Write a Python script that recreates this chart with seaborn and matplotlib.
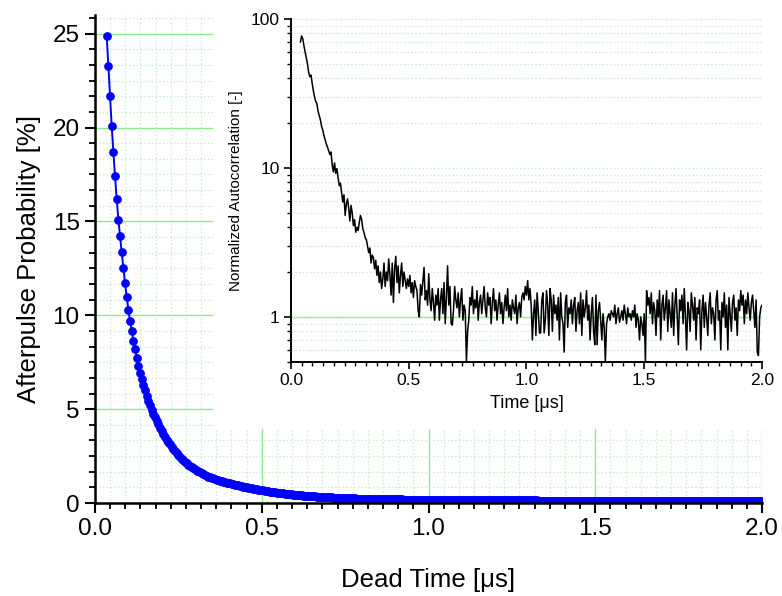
import numpy as np
import pandas as pd
import seaborn as sns
from matplotlib import pyplot as plt
from matplotlib.patches import Rectangle
from matplotlib.ticker import AutoMinorLocator, LogLocator, NullFormatter, FixedLocator

# afterpulse probability [%] vs dead time, one point every 5 ns starting at 35 ns
dead_time_start = 0.035
dead_time_step = 0.005
afterpulse = [
    24.9, 23.3, 21.7, 20.1, 18.7, 17.4, 16.2, 15.1, 14.2, 13.35,
    12.5, 11.7, 11.0, 10.3, 9.7, 9.15, 8.65, 8.2, 7.75, 7.3,
    6.95, 6.6, 6.3, 6.0, 5.72, 5.46, 5.2,
    4.97, 4.76, 4.56, 4.37, 4.19, 4.01, 3.84, 3.67, 3.52, 3.38,
    3.25, 3.12, 3.0, 2.88, 2.77, 2.66, 2.55, 2.46, 2.37, 2.28,
    2.20, 2.12, 2.05, 1.98, 1.91, 1.85, 1.79, 1.73, 1.68, 1.63,
    1.58, 1.53, 1.49, 1.45, 1.41, 1.37, 1.34, 1.31, 1.28, 1.25,
    1.22, 1.19, 1.16, 1.13, 1.11, 1.08, 1.06, 1.04, 1.02, 1.0,
    0.98, 0.96, 0.94, 0.92, 0.90, 0.88, 0.86, 0.84, 0.82, 0.80,
    0.78, 0.76, 0.74, 0.73, 0.71, 0.70, 0.68,
    0.67, 0.65, 0.64, 0.62, 0.61, 0.59, 0.58, 0.57, 0.55, 0.54,
    0.53, 0.52, 0.51, 0.50, 0.49, 0.48, 0.47, 0.46, 0.45, 0.44,
    0.43, 0.42, 0.41, 0.41, 0.40, 0.39, 0.38, 0.38, 0.37, 0.36,
    0.36, 0.35, 0.34, 0.34, 0.33, 0.33, 0.32, 0.32, 0.31, 0.31,
    0.30, 0.30, 0.29, 0.29, 0.29, 0.28, 0.28, 0.27, 0.27, 0.27,
    0.26, 0.26, 0.26, 0.25, 0.25, 0.25, 0.24, 0.24, 0.24, 0.24,
    0.23, 0.23, 0.23, 0.23, 0.22, 0.22, 0.22, 0.22, 0.21, 0.21,
    0.21, 0.21, 0.21, 0.20, 0.20, 0.20, 0.20, 0.20, 0.19, 0.19,
    0.19, 0.19, 0.19, 0.19, 0.18, 0.18, 0.18, 0.18, 0.18, 0.18,
    0.17, 0.17, 0.17, 0.17, 0.17, 0.17, 0.17, 0.16, 0.16, 0.16,
    0.16, 0.16, 0.16, 0.16, 0.16, 0.16, 0.16, 0.16, 0.16, 0.16,
    0.15, 0.15, 0.15, 0.15, 0.15, 0.15, 0.15, 0.15, 0.15, 0.15,
    0.15, 0.15, 0.15, 0.15, 0.15, 0.15, 0.15, 0.15, 0.15, 0.15,
    0.15, 0.15, 0.15, 0.15, 0.15, 0.14, 0.14, 0.14, 0.14, 0.14,
    0.14, 0.14, 0.14, 0.14, 0.14, 0.14, 0.14, 0.14, 0.14, 0.14,
    0.14, 0.14, 0.14, 0.14, 0.14, 0.14, 0.14, 0.14, 0.14, 0.14,
    0.14, 0.14, 0.14, 0.14, 0.14, 0.13, 0.13, 0.13, 0.13, 0.13,
    0.13, 0.13, 0.13, 0.13, 0.13, 0.13, 0.13, 0.13, 0.13, 0.13,
    0.13, 0.13, 0.13, 0.13, 0.13, 0.13, 0.13, 0.13, 0.13, 0.13,
    0.13, 0.13, 0.13, 0.13, 0.13, 0.13, 0.13, 0.13, 0.13, 0.13,
    0.13, 0.13, 0.13, 0.13, 0.13, 0.12, 0.12, 0.12, 0.12, 0.12,
    0.12, 0.12, 0.12, 0.12, 0.12, 0.12, 0.12, 0.12, 0.12, 0.12,
    0.12, 0.12, 0.12, 0.12, 0.12, 0.12, 0.12, 0.12, 0.12, 0.12,
    0.12, 0.12, 0.12, 0.12, 0.12, 0.12, 0.12, 0.12, 0.12, 0.12,
    0.12, 0.12, 0.12, 0.12, 0.12, 0.11, 0.11, 0.11, 0.11, 0.11,
    0.11, 0.11, 0.11, 0.11, 0.11, 0.11, 0.11, 0.11, 0.11, 0.11,
    0.11, 0.11, 0.11, 0.11, 0.11, 0.11, 0.11, 0.11, 0.11, 0.11,
    0.11, 0.11, 0.11, 0.11, 0.11, 0.11, 0.11, 0.11, 0.11, 0.11,
    0.11, 0.11, 0.11, 0.11, 0.11, 0.10, 0.10, 0.10, 0.10, 0.10,
    0.10, 0.10, 0.10, 0.10, 0.10, 0.10, 0.10, 0.10, 0.10, 0.10,
]

# normalized autocorrelation (inset), one point every 5 ns starting at 40 ns
time_start = 0.040
time_step = 0.005
autocorr = [
    70, 77, 74, 66, 60, 55, 50, 44, 41, 42,
    37, 33, 30, 28, 27, 24, 22.5, 21, 19, 18,
    16.5, 15.5, 14.5, 13.8, 13.0, 12.3, 12.8, 10.5, 9.4, 10.8,
    9.2, 9.9, 8.6,
    7.6, 7.9, 6.8, 5.9, 6.6, 4.8, 5.7, 6.2, 5.4, 4.4,
    5.6, 5.0, 4.1, 4.5, 3.7, 4.0, 3.8, 4.3, 4.8, 4.5,
    3.9, 3.7, 3.4, 3.3, 3.0, 2.7, 2.9, 2.3, 2.6, 2.5,
    2.1, 2.4, 1.9, 2.2, 1.7, 2.0, 1.55, 1.8, 2.3, 1.6,
    2.0, 1.75, 2.45, 1.9, 1.4, 2.3, 1.25, 2.1, 2.55, 1.7,
    2.2, 1.45, 1.9, 2.3, 1.6, 2.0, 1.75, 1.55, 1.8, 1.6,
    1.9, 1.45, 1.7, 1.35, 1.75, 1.6, 1.5, 1.1, 1.0, 1.65,
    1.4, 1.75, 2.15, 1.3, 1.5, 1.2, 1.95, 1.3, 1.1, 1.55,
    1.25, 0.95, 1.4, 1.2, 1.55, 0.95, 1.3, 1.55, 1.05, 1.7,
    0.9, 1.35, 2.2, 1.2, 1.6, 0.9, 0.88, 1.1, 1.6, 1.3,
    1.15, 1.45, 1.0, 1.3, 1.55, 0.95, 1.2, 1.1, 0.5, 0.8,
    0.95, 1.35, 1.2, 1.6, 1.05, 1.3, 1.15, 1.5, 0.95, 1.25,
    1.4, 1.05, 1.3, 1.6, 1.15, 1.0, 1.45, 1.2, 1.35, 0.9,
    1.25, 1.55, 1.1, 1.3, 0.95, 1.2, 1.45, 1.05, 1.25, 0.9,
    1.15, 1.4, 1.1, 1.55, 1.0, 1.2, 0.95, 1.3, 1.15, 1.05,
    1.4, 0.9, 1.15, 1.25, 1.0, 1.35, 1.45, 1.3, 1.6, 1.4,
    1.75, 1.3, 1.55, 1.2, 0.7, 1.05, 1.3, 0.75, 1.45, 1.1,
    0.78, 0.78, 1.3, 1.45, 0.78, 0.95, 1.5, 1.2, 0.75, 1.55,
    1.3, 0.8, 1.4, 1.05, 1.2, 0.95, 1.35, 0.7, 1.45, 1.0,
    0.9, 0.58, 1.25, 1.4, 0.85, 1.15, 1.05, 1.3, 0.9, 1.2,
    1.35, 0.8, 1.1, 1.25, 0.9, 1.45, 0.75, 1.3, 1.0, 1.15,
    1.5, 0.95, 1.2, 0.7, 1.05, 1.35, 0.8, 0.65, 1.4, 0.65,
    1.1, 1.25, 0.95, 0.7, 1.05, 0.85, 0.5, 0.9, 1.0, 1.05,
    0.95, 1.1, 1.05, 1.0, 1.2, 0.9, 1.05, 1.15, 0.92, 1.0,
    1.1, 0.95, 1.2, 1.05, 0.9, 1.15, 1.0, 1.05, 0.95, 1.1,
    1.0, 1.2, 0.85, 1.05, 0.95, 0.7, 1.0, 0.9, 0.75, 1.05,
    0.5, 1.5, 1.2, 1.35, 1.05, 1.45, 0.9, 1.25, 1.1, 0.75,
    1.3, 1.0, 1.5, 0.7, 1.2, 1.4, 0.95, 1.15, 1.5, 0.8,
    1.3, 1.05, 0.85, 1.45, 0.75, 1.2, 1.55, 1.0, 0.65, 1.3,
    1.1, 1.4, 0.9, 1.55, 1.0, 0.6, 1.25, 1.1, 0.8, 1.45,
    1.2, 0.95, 1.35, 0.7, 1.15, 1.05, 1.3, 0.6, 1.1, 1.4,
    0.85, 1.25, 1.0, 0.75, 1.2, 1.45, 0.9, 1.15, 1.05, 0.7,
    1.3, 1.5, 0.95, 1.1, 0.6, 1.25, 1.0, 1.45, 0.85, 1.2,
    0.6, 1.35, 1.05, 0.8, 1.25, 1.4, 0.95, 1.15, 0.75, 1.3,
    1.1, 1.5, 1.2, 1.4, 0.9, 1.3, 1.05, 1.45, 1.15, 0.95,
    1.25, 1.4, 1.1, 0.85, 1.3, 0.58, 0.55, 1.0, 1.15, 1.2,
]

main_ticks = [0.0, 0.5, 1.0, 1.5, 2.0]
main_yticks = [0, 5, 10, 15, 20, 25]

df_main = pd.DataFrame({
    "dead_time": np.round(dead_time_start + dead_time_step * np.arange(len(afterpulse)), 3),
    "afterpulse": afterpulse,
})
df_inset = pd.DataFrame({
    "time": np.round(time_start + time_step * np.arange(len(autocorr)), 3),
    "autocorr": autocorr,
})

sns.set_style("ticks")
plt.rcParams['font.family'] = ['Liberation Sans', 'DejaVu Sans']
plt.rcParams.update({
    'text.color': 'black', 'axes.labelcolor': 'black', 'axes.edgecolor': 'black',
    'xtick.color': 'black', 'ytick.color': 'black',
})

major_green = '#8ee88e'
minor_green = '#bdeebd'

fig = plt.figure(figsize=(7.82, 5.96), dpi=100)

# main plot
ax = fig.add_axes([0.1215, 0.156, 0.853, 0.819])
ax.set_axisbelow(True)
sns.lineplot(data=df_main, x="dead_time", y="afterpulse", ax=ax, color='#0000ff',
             marker='o', markersize=6.3, markeredgewidth=0, linewidth=1.4,
             estimator=None, sort=False)
ax.set_xlim(0, 2.0)
ax.set_ylim(0, 26)
ax.set_xticks(main_ticks)
ax.set_xticklabels(['%.1f' % t for t in main_ticks])
ax.set_yticks(main_yticks)
ax.xaxis.set_minor_locator(AutoMinorLocator(11))
ax.yaxis.set_minor_locator(AutoMinorLocator(6))
ax.grid(which='major', color=major_green, linewidth=1.0, linestyle='-')
ax.grid(which='minor', color=minor_green, linewidth=0.9, linestyle=(0, (1, 2)))
ax.tick_params(which='major', direction='out', length=7, width=1.5, labelsize=17.5, pad=4)
ax.tick_params(which='minor', direction='out', length=4, width=1.3)
for side in ['top', 'right']:
    ax.spines[side].set_visible(False)
for side in ['left', 'bottom']:
    ax.spines[side].set_linewidth(1.8)
ax.set_xlabel('Dead Time [μs]', fontsize=18.5, labelpad=20)
ax.set_ylabel('Afterpulse Probability [%]', fontsize=18.5, labelpad=8)

# white area behind the inset hides the main grid
fig.patches.append(Rectangle((0.2724, 0.2802), 0.75, 0.75, transform=fig.transFigure,
                             facecolor='white', edgecolor='none', zorder=1))

# inset
ax_in = fig.add_axes([0.3721, 0.3931, 0.6023, 0.575])
ax_in.set_zorder(2)
ax_in.set_axisbelow(True)
sns.lineplot(data=df_inset, x="time", y="autocorr", ax=ax_in, color='black',
             linewidth=1.1, estimator=None, sort=False)
ax_in.set_yscale('log')
ax_in.set_xlim(0, 2.0)
ax_in.set_ylim(0.5, 100)
ax_in.set_xticks(main_ticks)
ax_in.set_xticklabels(['%.1f' % t for t in main_ticks])
ax_in.xaxis.set_minor_locator(AutoMinorLocator(11))
ax_in.yaxis.set_major_locator(FixedLocator([1, 10, 100]))
ax_in.set_yticklabels(['1', '10', '100'])
ax_in.yaxis.set_minor_locator(LogLocator(base=10, subs=np.arange(2, 10)))
ax_in.yaxis.set_minor_formatter(NullFormatter())
ax_in.grid(False)
ax_in.yaxis.grid(True, which='both', color=minor_green, linewidth=0.9, linestyle=(0, (1, 2)))
ax_in.axhline(1, color=major_green, linewidth=1.0, zorder=0.5)
ax_in.tick_params(which='major', direction='out', length=5, width=1.2, labelsize=12.5, pad=3)
ax_in.tick_params(which='minor', direction='out', length=3, width=1.0)
for side in ['top', 'right']:
    ax_in.spines[side].set_visible(False)
for side in ['left', 'bottom']:
    ax_in.spines[side].set_linewidth(1.4)
ax_in.set_xlabel('Time [μs]', fontsize=13, labelpad=5)
ax_in.set_ylabel('Normalized Autocorrelation [-]', fontsize=11, labelpad=6)

fig.savefig('out.png', dpi=100)
